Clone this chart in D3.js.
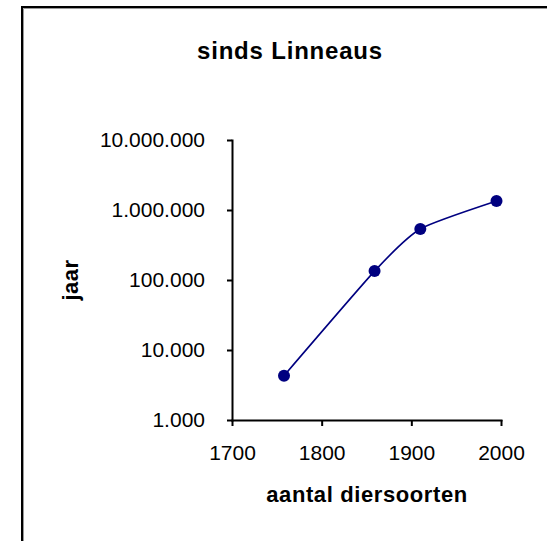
<!doctype html>
<html lang="nl">
<head>
  <meta charset="utf-8">
  <title>sinds Linneaus</title>
  <style>
    body { margin: 0; background: #fff; }
    svg { display: block; font-family: "Liberation Sans", Arial, sans-serif; }
    .axis text { font-size: 21px; fill: #000; }
    .axis path, .axis line { stroke: #000; stroke-width: 2; }
  </style>
</head>
<body>
  <script src="https://cdn.jsdelivr.net/npm/d3@7/dist/d3.min.js"></script>
  <script>
    // jaar van telling en aantal bekende diersoorten
    var years = [1758, 1859, 1910, 1995]
    var counts = [4300, 134000, 535000, 1340000]
    var xTicks = [1700, 1800, 1900, 2000]
    var yTicks = [1000, 10000, 100000, 1000000, 10000000]

    var width = 547
    var height = 541

    var svg = d3.select('body').append('svg')
      .attr('width', width)
      .attr('height', height)

    // kader (loopt buiten beeld door)
    svg.append('path')
      .attr('d', 'M22,' + (height + 10) + 'V7H' + (width + 10))
      .style('fill', 'none')
      .style('stroke', '#000')
      .style('stroke-width', 2)
    svg.append('path')
      .attr('d', 'M23.5,' + (height + 10) + 'V8.5H' + (width + 10))
      .style('fill', 'none')
      .style('stroke', '#999')
      .style('stroke-width', 1)

    var x = d3.scaleLinear()
      .domain([1700, 2000])
      .range([232, 501])

    var y = d3.scaleLog()
      .domain([1000, 10000000])
      .range([420, 140])

    var dotted = function(d) { return d3.format(',')(d).replace(/,/g, '.') }

    var yAxis = d3.axisLeft(y)
      .tickValues(yTicks)
      .tickFormat(dotted)
      .tickSizeInner(5)
      .tickSizeOuter(0)
      .tickPadding(22)

    svg.append('g')
      .attr('class', 'y axis')
      .attr('transform', 'translate(' + x.range()[0] + ',0)')
      .call(yAxis)

    var xAxis = d3.axisBottom(x)
      .tickValues(xTicks)
      .tickFormat(d3.format('d'))
      .tickSizeInner(6)
      .tickSizeOuter(0)
      .tickPadding(19)

    svg.append('g')
      .attr('class', 'x axis')
      .attr('transform', 'translate(0,' + y.range()[0] + ')')
      .call(xAxis)

    svg.selectAll('.axis .domain').attr('stroke-linecap', 'square')

    var data = years.map(function(d, i) { return { year: d, count: counts[i] } })

    var line = d3.line()
      .x(function(d) { return x(d.year) })
      .y(function(d) { return y(d.count) })
      .curve(d3.curveCardinal.tension(0.45))

    svg.append('path')
      .datum(data)
      .attr('d', line)
      .style('fill', 'none')
      .style('stroke', '#000080')
      .style('stroke-width', 1.6)

    svg.selectAll('.mark')
      .data(data)
      .enter().append('circle')
      .attr('class', 'mark')
      .attr('cx', function(d) { return x(d.year) })
      .attr('cy', function(d) { return y(d.count) })
      .attr('r', 6)
      .style('fill', '#000080')

    // titels
    svg.append('text')
      .attr('x', 290)
      .attr('y', 59)
      .attr('text-anchor', 'middle')
      .style('font-size', '24px')
      .style('font-weight', 'bold')
      .style('letter-spacing', '0.8px')
      .text('sinds Linneaus')

    svg.append('text')
      .attr('x', 367)
      .attr('y', 502)
      .attr('text-anchor', 'middle')
      .style('font-size', '22px')
      .style('font-weight', 'bold')
      .style('letter-spacing', '0.6px')
      .text('aantal diersoorten')

    svg.append('text')
      .attr('transform', 'translate(78,280) rotate(-90)')
      .attr('text-anchor', 'middle')
      .style('font-size', '22px')
      .style('font-weight', 'bold')
      .style('letter-spacing', '0.5px')
      .text('jaar')
  </script>
</body>
</html>
